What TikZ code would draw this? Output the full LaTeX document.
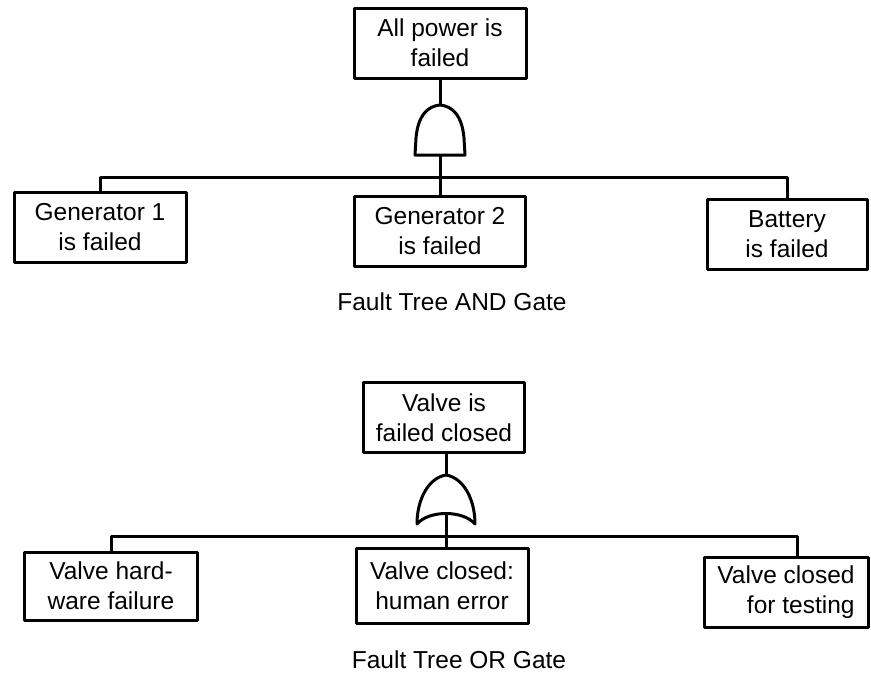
\documentclass[tikz,border=0pt]{standalone}
\usepackage{fontspec}
\setmainfont{Liberation Sans}
\begin{document}
\begin{tikzpicture}
[x=1pt,y=-1pt,line width=3pt,line join=round,%
  every node/.style={font=\fontsize{24.5}{30}\selectfont},%
  event/.style={draw,rectangle,align=center,minimum width=172pt,minimum height=70pt,inner sep=2pt}]
\useasboundingbox (0,0) rectangle (871,673);
% AND gate
\node[event] (allpower) at (440,43) {All power is\\failed};
\draw (415,155) -- (416,138) .. controls (418,115) and (428,106) .. (440,105)
  .. controls (452,106) and (462,115) .. (464,138) -- (465,155) -- cycle;
\coordinate (andin) at (440,105);
\coordinate (andout) at (440,155);
\coordinate (andbus) at (440,177);
\node[event] (gen1) at (100,227.5) {Generator 1\\is failed};
\node[event,minimum width=171pt] (gen2) at (440,231) {Generator 2\\is failed};
\node[event,minimum width=160pt] (battery) at (787,234) {Battery\\is failed};
\draw (allpower.south) -- (andin);
\draw (andout) -- (gen2.north);
\draw (gen1.north) |- (andbus) -| (battery.north);
\node (andcap) at (452,302) {Fault Tree AND Gate};
% OR gate
\node[event,minimum width=161pt] (valve) at (444,417.5) {Valve is\\failed closed};
\draw (417,524) .. controls (417,500) and (428,478) .. (446,475)
  .. controls (464,478) and (475,500) .. (475,524)
  .. controls (463,510) and (429,510) .. (417,524) -- cycle;
\coordinate (orin) at (446,475);
\coordinate (orout) at (446,513);
\coordinate (orbus) at (446,536);
\node[event,minimum width=173pt,minimum height=68pt] (hardware) at (111,586) {Valve hard-\\ware failure};
\node[event,minimum height=75pt] (human) at (442,585.5) {Valve closed:\\human error};
\node[event,minimum width=164pt,align=right] (testing) at (786,592) {Valve closed\\for testing};
\draw (valve.south -| orin) -- (orin);
\draw (orout) -- (human.north -| orout);
\draw (hardware.north) |- (orbus) -| ([xshift=11pt]testing.north);
\node[inner sep=1pt] (orcap) at (459,660) {Fault Tree OR Gate};
\end{tikzpicture}
\end{document}
